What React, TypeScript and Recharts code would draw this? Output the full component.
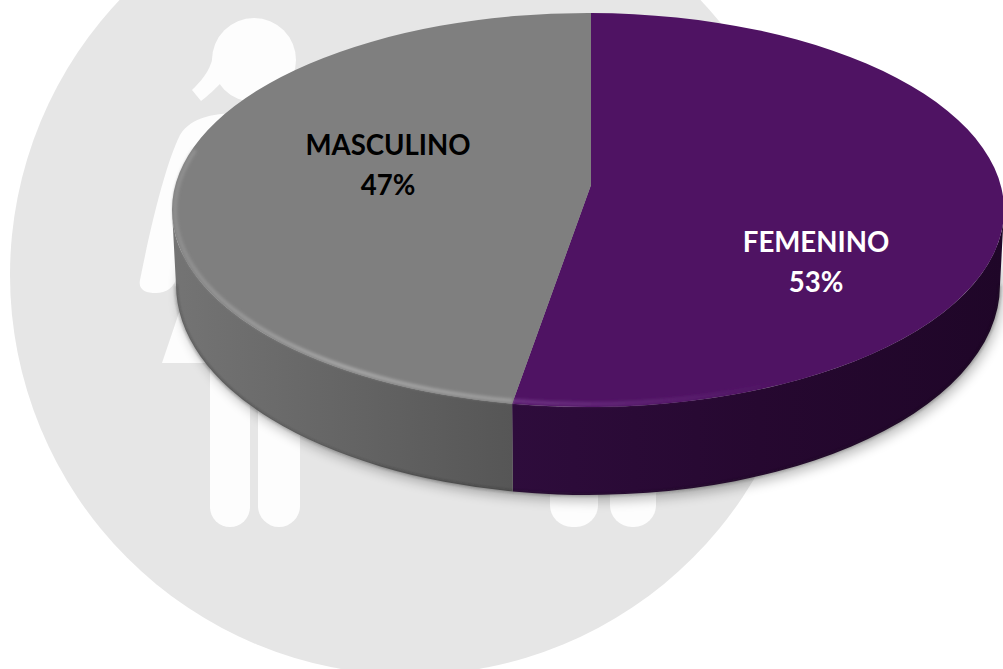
import React from "react";
import { PieChart, Pie } from "recharts";

const categories = ["FEMENINO", "MASCULINO"];
const shares = [53, 47];
const topColors = ["#4f1363", "#7f7f7f"];
const labelColors = ["#ffffff", "#000000"];
const rows = categories.map((name, i) => ({ name, value: shares[i], fill: topColors[i] }));

const W = 1003, H = 669;
const APEX_X = 591, APEX_Y = 185;
const ELL = { cx: 588, cy: 210, rx: 416, ry: 197 };
const BASE = { cx: 588, cy: 285, rx: 412, ry: 210 };
const FRONT_STRETCH = 220 / 416;
const LABEL_OFFSETS = [{ x: 225, y: 78 }, { x: -203, y: -19 }];

const pt = (phi: number, shrink = 0) => ({
  x: ELL.cx + (ELL.rx - shrink) * Math.cos(phi),
  y: ELL.cy + (ELL.ry - shrink) * Math.sin(phi),
});
const basePt = (phi: number) => ({
  x: BASE.cx + BASE.rx * Math.cos(phi),
  y: BASE.cy + BASE.ry * Math.sin(phi),
});

// angle of the pie (clockwise from the top) -> parameter on the foreshortened disc
function rimPhi(theta: number) {
  const dx = Math.sin(theta) * ELL.rx;
  const dy = -Math.cos(theta) * ELL.rx * FRONT_STRETCH;
  const ox = (APEX_X - ELL.cx) / ELL.rx, oy = (APEX_Y - ELL.cy) / ELL.ry;
  const ux = dx / ELL.rx, uy = dy / ELL.ry;
  const a = ux * ux + uy * uy, b = 2 * (ox * ux + oy * uy), c = ox * ox + oy * oy - 1;
  const t = (-b + Math.sqrt(b * b - 4 * a * c)) / (2 * a);
  return Math.atan2(oy + uy * t, ox + ux * t);
}

function arcTo(phi: number, large: boolean, sweep: number, shrink = 0) {
  const p = pt(phi, shrink);
  return `A ${ELL.rx - shrink} ${ELL.ry - shrink} 0 ${large ? 1 : 0} ${sweep} ${p.x} ${p.y}`;
}
function baseArcTo(phi: number, sweep: number) {
  const p = basePt(phi);
  return `A ${BASE.rx} ${BASE.ry} 0 0 ${sweep} ${p.x} ${p.y}`;
}

function DiscSector(props: any) {
  const { startAngle, endAngle, index, fill } = props;
  const t1 = ((90 - startAngle) * Math.PI) / 180;
  const t2 = ((90 - endAngle) * Math.PI) / 180;
  const p1 = rimPhi(t1);
  let p2 = rimPhi(t2);
  while (p2 <= p1) p2 += Math.PI * 2;
  const a = pt(p1), large = p2 - p1 > Math.PI;
  const top = `M ${APEX_X} ${APEX_Y} L ${a.x} ${a.y} ${arcTo(p2, large, 1)} Z`;
  const w1 = Math.max(p1, 0), w2 = Math.min(p2, Math.PI);
  const s = pt(w1), bs = basePt(w1), be = basePt(w2);
  const wall = `M ${s.x} ${s.y} ${arcTo(w2, false, 1)} L ${be.x} ${be.y} ${baseArcTo(w1, 0)} Z`;
  const edge = `M ${bs.x} ${bs.y} ${baseArcTo(w2, 1)}`;
  const r2 = index === 1 ? Math.min(p2, Math.PI * 1.1) : w2;
  const rs = pt(w1, 3);
  const rim = `M ${rs.x} ${rs.y} ${arcTo(r2, false, 1, 3)}`;
  return (
    <g>
      <path d={wall} fill={`url(#wall${index})`} />
      <path d={edge} fill="none" stroke="#1c1c1c" strokeWidth={1.4} opacity={0.55} filter="url(#soft)" />
      <path d={top} fill={fill} />
      <path d={rim} fill="none" stroke={`url(#rim${index})`} strokeWidth={4} filter="url(#soft)" />
    </g>
  );
}

function SliceLabel(props: any) {
  const { cx, cy, index, percent } = props;
  const o = LABEL_OFFSETS[index];
  const x = cx + o.x, y = cy + o.y;
  const style = { fontFamily: "Lato, 'Open Sans', sans-serif", fontWeight: 700, fontSize: 27.6 };
  return (
    <text x={x} y={y} fill={labelColors[index]} textAnchor="middle" style={style}>
      <tspan x={x} dy={-11}>{categories[index]}</tspan>
      <tspan x={x} dy={40}>{`${Math.round(percent * 100)}%`}</tspan>
    </text>
  );
}

function Backdrop() {
  return (
    <svg width={W} height={H} style={{ position: "absolute", left: 0, top: 0 }}>
      <defs>
        <filter id="shadowBlur" x="-10%" y="-10%" width="120%" height="120%">
          <feGaussianBlur stdDeviation="6" />
        </filter>
      </defs>
      <circle cx={410} cy={275} r={400} fill="#e6e6e6" />
      <g fill="#fdfdfd">
        <circle cx={254} cy={60} r={42} />
        <path d="M213 56 C210 72 200 82 192 90 L201 101 C208 96 216 88 222 82 Z" />
        <path d="M245 113 C215 113 192 116 180 135 C165 165 150 230 140 280 C138 290 146 293 156 293 C166 293 174 288 178 275 L200 160 L260 130 Z" />
        <path d="M190 280 L162 363 L270 363 L270 280 Z" />
        <rect x={210} y={330} width={40} height={197} rx={20} />
        <rect x={258} y={330} width={42} height={197} rx={21} />
        <rect x={550} y={400} width={48} height={127} rx={22} />
        <rect x={610} y={400} width={46} height={127} rx={22} />
      </g>
      <ellipse cx={BASE.cx + 3} cy={BASE.cy + 6} rx={BASE.rx} ry={BASE.ry} fill="#000000" opacity={0.26} filter="url(#shadowBlur)" />
    </svg>
  );
}

export default function App() {
  return (
    <div style={{ position: "absolute", left: 0, top: 0, width: W, height: H, overflow: "hidden", background: "#ffffff" }}>
      <Backdrop />
      <div style={{ position: "absolute", left: 0, top: 0 }}>
        <PieChart width={W} height={H} margin={{ top: 0, right: 0, bottom: 0, left: 0 }}>
          <defs>
            <linearGradient id="wall0" gradientUnits="userSpaceOnUse" x1={512} y1={0} x2={1004} y2={0}>
              <stop offset="0" stopColor="#2e0c3c" />
              <stop offset="0.5" stopColor="#260830" />
              <stop offset="1" stopColor="#1f0628" />
            </linearGradient>
            <linearGradient id="wall1" gradientUnits="userSpaceOnUse" x1={172} y1={0} x2={512} y2={0}>
              <stop offset="0" stopColor="#747474" />
              <stop offset="1" stopColor="#565656" />
            </linearGradient>
            <linearGradient id="rim0" gradientUnits="userSpaceOnUse" x1={512} y1={0} x2={780} y2={0}>
              <stop offset="0" stopColor="#6d3183" stopOpacity="1" />
              <stop offset="1" stopColor="#6d3183" stopOpacity="0" />
            </linearGradient>
            <linearGradient id="rim1" gradientUnits="userSpaceOnUse" x1={172} y1={0} x2={512} y2={0}>
              <stop offset="0" stopColor="#8e8e8e" />
              <stop offset="0.5" stopColor="#a6a6a6" />
              <stop offset="1" stopColor="#9c9c9c" />
            </linearGradient>
            <filter id="soft" x="-5%" y="-5%" width="110%" height="110%">
              <feGaussianBlur stdDeviation="1.4" />
            </filter>
          </defs>
          <Pie
            data={rows}
            dataKey="value"
            nameKey="name"
            cx={APEX_X}
            cy={APEX_Y}
            outerRadius={ELL.rx}
            startAngle={90}
            endAngle={-270}
            stroke="none"
            shape={DiscSector}
            label={SliceLabel}
            labelLine={false}
            isAnimationActive={false}
          />
        </PieChart>
      </div>
    </div>
  );
}
